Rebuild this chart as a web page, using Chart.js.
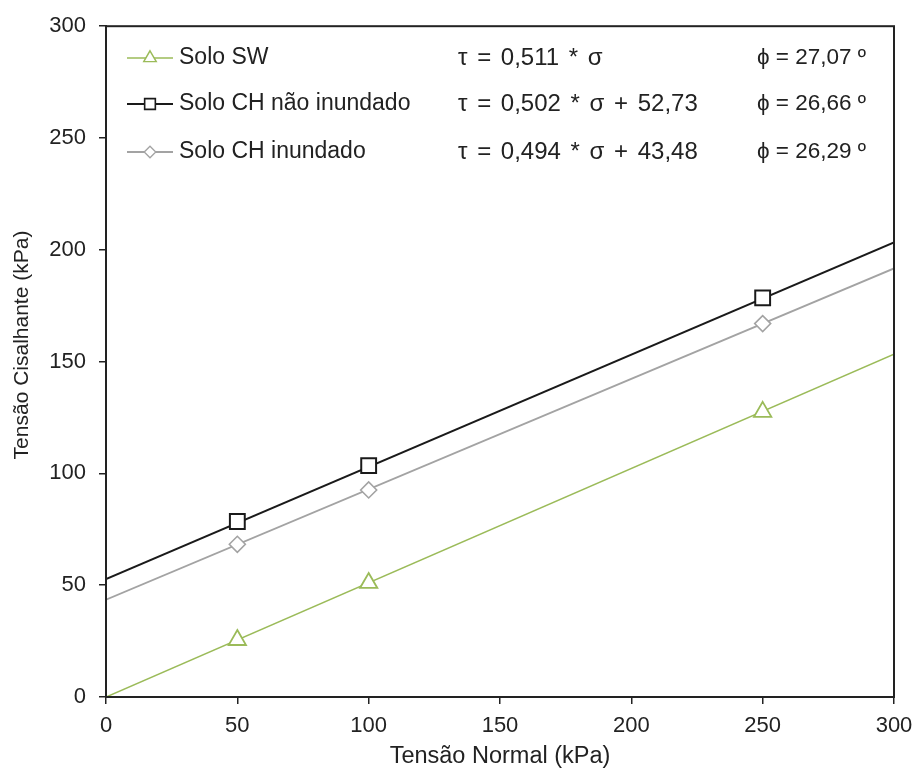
<!DOCTYPE html>
<html>
<head>
<meta charset="utf-8">
<script src="https://cdn.jsdelivr.net/npm/chart.js@4/dist/chart.umd.min.js"></script>
<style>
  html, body { margin: 0; padding: 0; background: #fff; }
  #wrap { width: 917px; height: 771px; }
</style>
</head>
<body>
<div id="wrap"><canvas id="shearChart" width="917" height="771"></canvas></div>
<script>
// data
var sigma = [50, 100, 250];
var tauSW = [25.5, 51, 127.5];
var tauCHnat = [78.5, 103.5, 178.5];
var tauCHinund = [68.3, 92.6, 167];

// regression lines shown in the legend
var seriesNames = ["Solo SW", "Solo CH não inundado", "Solo CH inundado"];
var slopes = [0.511, 0.502, 0.494];
var intercepts = [0, 52.73, 43.48];
var phiDeg = ["27,07", "26,66", "26,29"];
var lineRange = [0, 300];
var tickValues = [0, 50, 100, 150, 200, 250, 300];

var colors = ["#9bbb59", "#1a1a1a", "#a3a3a3"];
var styles = ["triangle", "rect", "rectRot"];
var radii = [10, 10.5, 8];
var pointWidths = [1.8, 2, 1.6];
var lineWidths = [1.6, 2, 1.8];
var textColor = "#222222";
var fontFamily = "'Liberation Sans', Arial, sans-serif";

function toComma(v) {
    return String(v).replace(".", ",");
}

function equation(i) {
    var s = "τ = " + toComma(slopes[i]) + " * σ";
    if (intercepts[i] !== 0) s += " + " + toComma(intercepts[i]);
    return s;
}

var seriesValues = [tauSW, tauCHnat, tauCHinund];
var datasets = [];

seriesValues.forEach(function (vals, i) {
    // trend line
    datasets.push({
        label: seriesNames[i] + " (reta)",
        data: lineRange.map(function (x) { return { x: x, y: slopes[i] * x + intercepts[i] }; }),
        showLine: true,
        borderColor: colors[i],
        borderWidth: lineWidths[i],
        pointRadius: 0,
        order: 2
    });
    // measured points
    datasets.push({
        label: seriesNames[i],
        data: sigma.map(function (x, k) { return { x: x, y: vals[k] }; }),
        showLine: false,
        pointStyle: styles[i],
        pointRadius: radii[i],
        pointHoverRadius: radii[i],
        pointBorderColor: colors[i],
        pointBackgroundColor: "#ffffff",
        pointBorderWidth: pointWidths[i],
        order: 1
    });
});

// legend + equations + y title + box around the plot
var legendPlugin = {
    id: "legendBox",
    afterDraw: function (chart) {
        var ctx = chart.ctx;
        var a = chart.chartArea;
        ctx.save();
        ctx.strokeStyle = textColor;
        ctx.lineWidth = 2;
        ctx.strokeRect(a.left, a.top, a.right - a.left, a.bottom - a.top);

        // y axis title (sits a bit above the middle in the original)
        ctx.save();
        ctx.translate(22, 345);
        ctx.rotate(-Math.PI / 2);
        ctx.font = "21px " + fontFamily;
        ctx.fillStyle = textColor;
        ctx.textAlign = "center";
        ctx.textBaseline = "middle";
        ctx.fillText("Tensão Cisalhante (kPa)", 0, 0);
        ctx.restore();

        var rows = [58, 104, 152];
        ctx.textBaseline = "middle";
        ctx.textAlign = "left";
        seriesNames.forEach(function (name, i) {
            var y = rows[i];
            ctx.strokeStyle = colors[i];
            ctx.lineWidth = lineWidths[i];
            ctx.beginPath();
            ctx.moveTo(127, y);
            ctx.lineTo(173, y);
            ctx.stroke();
            ctx.fillStyle = "#ffffff";
            ctx.lineWidth = pointWidths[i] * 0.8;
            Chart.helpers.drawPoint(ctx, {
                pointStyle: styles[i],
                radius: radii[i] * 0.72,
                rotation: 0,
                borderWidth: pointWidths[i]
            }, 150, y);
            ctx.fillStyle = textColor;
            ctx.font = "23px " + fontFamily;
            ctx.fillText(name, 179, y);
            ctx.font = "24px " + fontFamily;
            ctx.wordSpacing = "3px";
            ctx.fillText(equation(i), 458, y);
            ctx.wordSpacing = "0px";
            ctx.font = "22.5px " + fontFamily;
            ctx.fillText("ϕ = " + phiDeg[i] + " º", 757, y);
        });
        ctx.restore();
    }
};

var ctx = document.getElementById("shearChart").getContext("2d");
var shearChart = new Chart(ctx, {
    type: "scatter",
    data: { datasets: datasets },
    options: {
        responsive: false,
        animation: false,
        layout: {
            padding: { top: 22, right: 23, left: 0, bottom: 0 }
        },
        plugins: {
            legend: { display: false },
            tooltip: { enabled: false }
        },
        scales: {
            x: {
                type: "linear",
                min: 0,
                max: 300,
                afterBuildTicks: function (s) {
                    s.ticks = tickValues.map(function (v) { return { value: v }; });
                },
                afterFit: function (s) { s.height = 74; },
                grid: {
                    drawOnChartArea: false,
                    drawTicks: true,
                    tickLength: 7,
                    color: textColor,
                    lineWidth: 1.5
                },
                border: { display: true, color: textColor, width: 2 },
                ticks: {
                    padding: 4,
                    color: textColor,
                    font: { family: fontFamily, size: 22, lineHeight: 1.6 }
                },
                title: {
                    display: true,
                    text: "Tensão Normal (kPa)",
                    color: textColor,
                    font: { family: fontFamily, size: 23.5 },
                    padding: { top: 0, bottom: 0 }
                }
            },
            y: {
                type: "linear",
                min: 0,
                max: 300,
                afterBuildTicks: function (s) {
                    s.ticks = tickValues.map(function (v) { return { value: v }; });
                },
                afterFit: function (s) { s.width = 106; },
                grid: {
                    drawOnChartArea: false,
                    drawTicks: true,
                    tickLength: 7,
                    color: textColor,
                    lineWidth: 1.5
                },
                border: { display: true, color: textColor, width: 2 },
                ticks: {
                    padding: 13,
                    color: textColor,
                    font: { family: fontFamily, size: 22 }
                },
                title: { display: false }
            }
        }
    },
    plugins: [legendPlugin]
});
</script>
</body>
</html>
